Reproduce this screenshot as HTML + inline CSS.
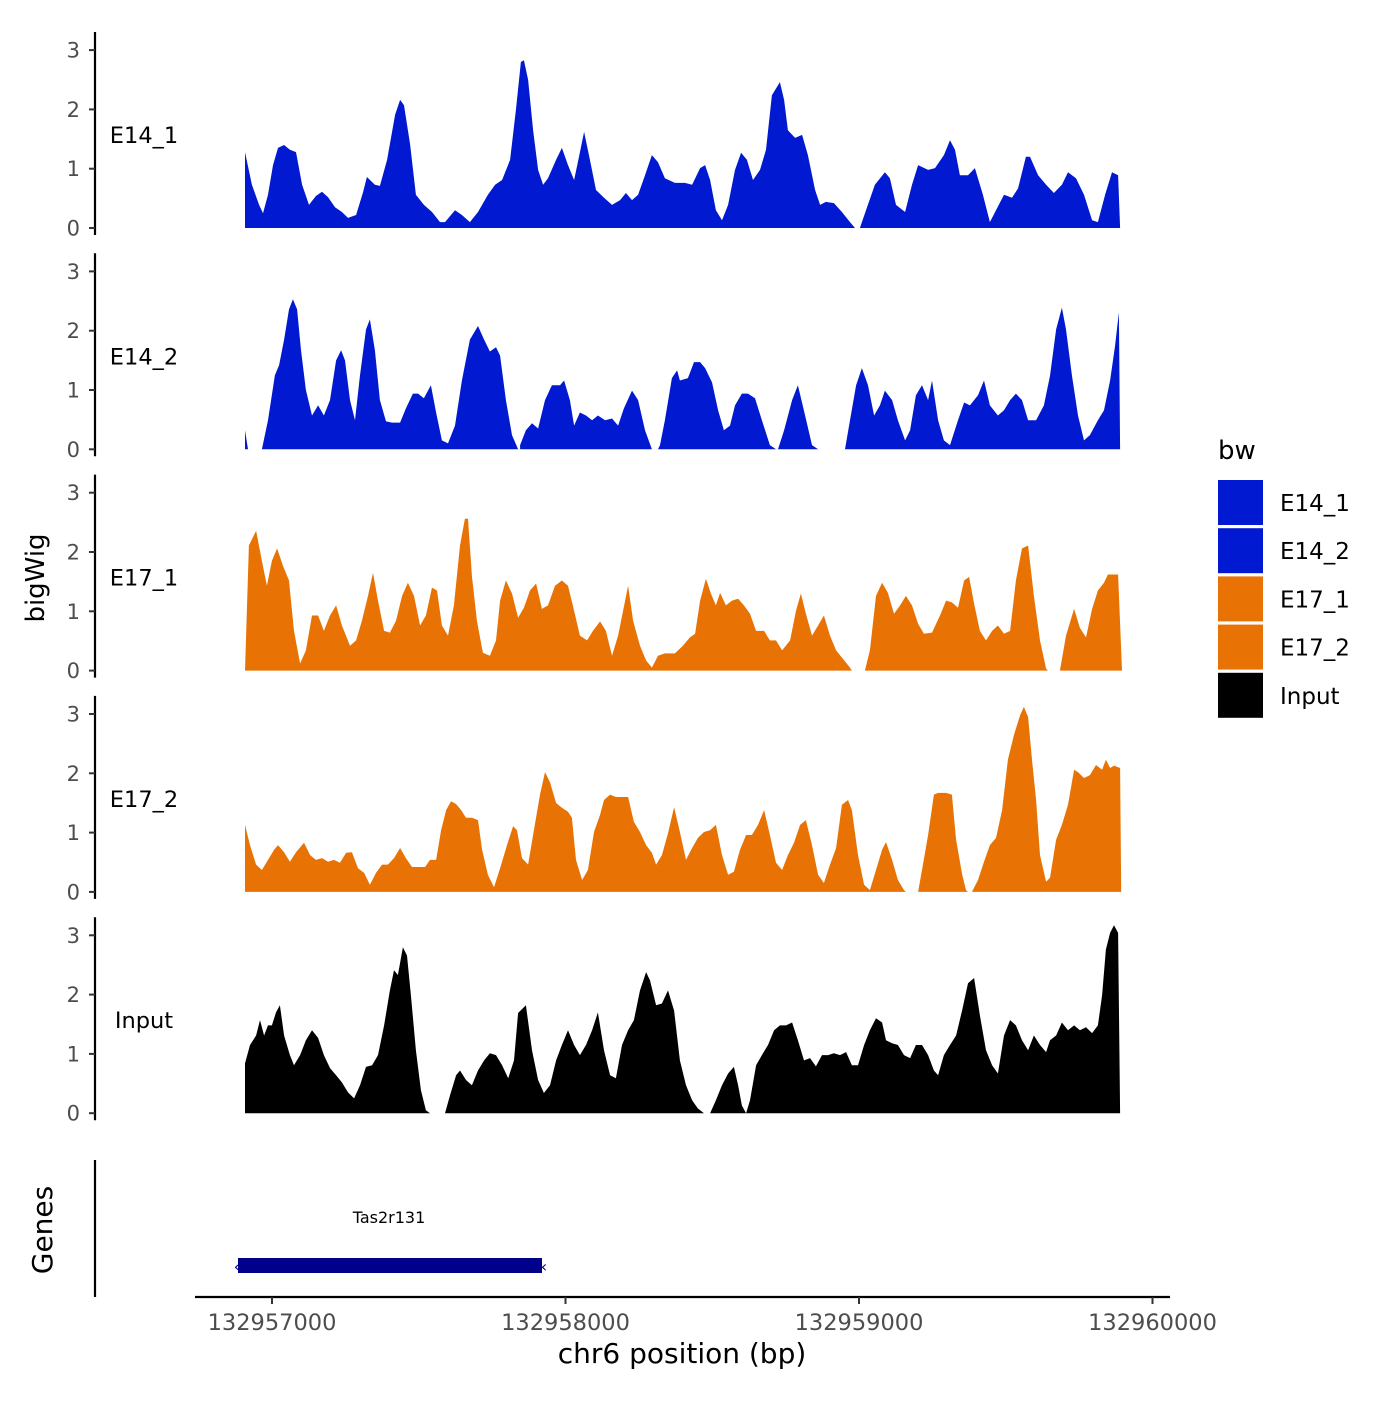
<!DOCTYPE html>
<html><head><meta charset="utf-8"><style>
html,body{margin:0;padding:0;background:#fff;}
svg text{font-family:"DejaVu Sans","Liberation Sans",sans-serif;}
</style></head><body>
<svg id="chart" width="1400" height="1400" viewBox="0 0 1400 1400" xmlns="http://www.w3.org/2000/svg">
<rect width="1400" height="1400" fill="#fff"/>
<g id="tracks"></g>
<g id="genes">
  <line x1="95" y1="1160" x2="95" y2="1297" stroke="#000" stroke-width="2.2"/>
  <text x="52" y="1230" font-size="28" text-anchor="middle" transform="rotate(-90 52 1230)">Genes</text>
  <rect x="238" y="1258" width="304" height="15" fill="#00008b"/>
  <text x="237" y="1272" font-size="16" fill="#00008b" text-anchor="middle">‹</text>
  <text x="544" y="1272" font-size="16" fill="#00008b" text-anchor="middle">‹</text>
  <text x="389" y="1223" font-size="16" text-anchor="middle">Tas2r131</text>
</g>
<g id="xaxis"></g>
<text x="44" y="578" font-size="26" text-anchor="middle" transform="rotate(-90 44 578)">bigWig</text>
<text x="682" y="1363" font-size="28" text-anchor="middle">chr6 position (bp)</text>
<g id="legend">
  <text x="1218" y="459" font-size="26">bw</text>
</g>
</svg>
<script>
const regionStart = 132956908;
const offsetToBp = 0.9438;
const panelNames = ["E14_1","E14_2","E17_1","E17_2","Input"];
const panelColors = ["#0019d1","#0019d1","#e87304","#e87304","#000000"];
const yTicks = [0,1,2,3];
const xTicks = [132957000,132958000,132959000,132960000];
const xTickLabels = ["132957000","132958000","132959000","132960000"];

const E14_1_pos = [0,25,51,65,83,101,119,141,162,184,206,231,256,278,300,325,350,372,401,426,440,469,487,513,542,560,574,596,617,646,675,704,722,758,783,812,841,877,903,928,957,978,996,1007,1022,1040,1058,1076,1094,1123,1144,1166,1188,1206,1224,1245,1267,1296,1325,1354,1375,1397,1419,1444,1469,1491,1516,1552,1588,1614,1643,1661,1679,1700,1722,1744,1769,1791,1812,1834,1859,1881,1902,1931,1946,1960,1986,2011,2032,2058,2076,2097,2126,2155,2184,2202,null,2220,2242,2274,2310,2328,2350,2383,2408,2430,2466,2491,2523,2545,2563,2581,2610,2635,2664,2689,2711,2740,2769,2791,2819,2834,2863,2892,2920,2949,2971,3000,3029,3058,3079,3105,3130,3152,3159];
const E14_1_val = [1.28,0.73,0.39,0.25,0.56,1.06,1.35,1.40,1.32,1.28,0.73,0.39,0.54,0.61,0.52,0.35,0.27,0.17,0.22,0.6,0.86,0.73,0.71,1.15,1.91,2.16,2.07,1.41,0.56,0.39,0.27,0.1,0.1,0.3,0.22,0.1,0.27,0.56,0.73,0.81,1.15,1.99,2.8,2.83,2.5,1.65,0.98,0.73,0.84,1.15,1.35,1.06,0.81,1.21,1.62,1.15,0.64,0.51,0.39,0.47,0.59,0.47,0.56,0.89,1.23,1.11,0.84,0.76,0.76,0.73,1.01,1.06,0.81,0.3,0.13,0.39,0.98,1.27,1.15,0.81,0.98,1.32,2.24,2.46,2.16,1.65,1.52,1.57,1.23,0.64,0.39,0.44,0.42,0.27,0.1,0,null,0,0.3,0.73,0.94,0.84,0.39,0.27,0.73,1.06,0.98,1.01,1.23,1.48,1.32,0.89,0.89,1.01,0.56,0.1,0.3,0.56,0.51,0.67,1.2,1.2,0.89,0.73,0.59,0.73,0.94,0.84,0.56,0.13,0.1,0.56,0.94,0.89,0];

const E14_2_pos = [0,11,null,61,83,108,123,141,159,173,188,202,220,242,264,285,307,329,347,361,379,397,415,437,451,469,487,509,531,560,581,606,625,646,671,690,711,733,758,783,812,841,863,884,906,921,942,964,986,null,993,1014,1036,1058,1083,1108,1137,1152,1173,1188,1209,1231,1253,1274,1300,1325,1347,1368,1397,1419,1444,1469,null,1491,1498,1516,1541,1560,1570,1599,1621,1643,1661,1686,1708,1729,1751,1769,1794,1816,1841,1866,1895,1917,null,1924,1946,1975,1996,2022,2047,2069,null,2166,2184,2206,2227,2249,2271,2292,2310,2336,2357,2383,2401,2422,2444,2466,2480,2502,2523,2545,2574,2596,2617,2646,2668,2689,2718,2740,2762,2783,2805,2827,2856,2884,2906,2928,2949,2964,2985,3007,3029,3050,3079,3101,3123,3141,3155,3159];
const E14_2_val = [0.32,0,null,0,0.49,1.25,1.42,1.85,2.36,2.53,2.36,1.67,1.0,0.57,0.74,0.57,0.83,1.50,1.67,1.50,0.83,0.49,1.25,2.02,2.19,1.67,0.83,0.47,0.45,0.45,0.69,0.94,0.94,0.86,1.08,0.62,0.15,0.10,0.40,1.16,1.85,2.08,1.85,1.65,1.72,1.58,0.83,0.24,0,null,0.07,0.32,0.44,0.35,0.83,1.08,1.08,1.16,0.83,0.40,0.62,0.57,0.49,0.57,0.49,0.52,0.40,0.69,0.99,0.83,0.32,0,null,0,0.07,0.49,1.2,1.33,1.16,1.2,1.47,1.47,1.37,1.13,0.66,0.32,0.40,0.74,0.94,0.94,0.86,0.49,0.07,0,null,0,0.32,0.83,1.08,0.57,0.07,0,null,0,0.49,1.08,1.37,1.08,0.57,0.74,0.99,0.83,0.49,0.15,0.32,0.91,1.08,0.83,1.16,0.49,0.15,0.07,0.49,0.79,0.74,0.91,1.16,0.74,0.57,0.66,0.83,0.94,0.83,0.49,0.49,0.74,1.24,2.02,2.39,2.02,1.25,0.57,0.15,0.24,0.49,0.66,1.16,1.75,2.31,0];

const E17_1_pos = [0,14,40,61,79,97,116,137,159,177,199,220,242,264,285,307,329,350,379,401,422,444,462,480,502,523,545,567,588,610,632,653,675,693,711,733,754,776,794,805,819,837,859,884,906,921,942,964,986,1007,1029,1051,1072,1094,1119,1144,1166,1188,1209,1235,1256,1282,1303,1325,1347,1383,1401,1426,1448,1469,1491,1516,1552,1581,1606,1625,1643,1664,1682,1700,1715,1736,1758,1780,1801,1823,1845,1874,1895,1917,1939,1968,1989,2007,2025,2047,2069,2090,2112,2134,2155,2184,2191,null,2238,2256,2278,2300,2321,2343,2365,2386,2408,2430,2451,2480,2509,2531,2552,2574,2596,2614,2632,2653,2675,2697,2718,2740,2762,2783,2805,2827,2848,2870,2892,2899,null,2942,2964,2993,3014,3036,3058,3079,3101,3115,3137,3152,3166];
const E17_1_val = [0,2.11,2.36,1.85,1.43,1.85,2.06,1.77,1.52,0.67,0.12,0.34,0.93,0.93,0.67,0.93,1.10,0.76,0.42,0.51,0.84,1.26,1.65,1.18,0.67,0.64,0.84,1.26,1.48,1.26,0.76,0.93,1.40,1.35,0.76,0.59,1.10,2.11,2.56,2.56,1.60,0.84,0.30,0.25,0.51,1.18,1.52,1.30,0.89,1.06,1.35,1.47,1.04,1.10,1.43,1.52,1.43,1.01,0.59,0.51,0.67,0.83,0.67,0.25,0.59,1.43,0.84,0.42,0.17,0.05,0.25,0.29,0.29,0.42,0.56,0.62,1.18,1.55,1.30,1.10,1.31,1.10,1.18,1.21,1.10,0.96,0.67,0.67,0.51,0.51,0.34,0.51,1.01,1.30,0.96,0.59,0.76,0.93,0.59,0.34,0.22,0.05,0,null,0,0.34,1.26,1.48,1.31,0.96,1.10,1.26,1.10,0.79,0.62,0.64,0.93,1.18,1.15,1.06,1.52,1.58,1.13,0.67,0.51,0.67,0.76,0.62,0.67,1.52,2.06,2.11,1.26,0.51,0.03,0,null,0,0.59,1.04,0.72,0.56,1.04,1.35,1.48,1.62,1.62,1.62,0];

const E17_2_pos = [0,18,40,61,83,105,119,141,162,184,213,235,256,278,300,321,343,365,386,408,430,451,473,495,516,538,560,581,603,625,650,668,690,708,726,744,762,780,798,819,841,856,877,899,921,946,968,982,1000,1022,1043,1065,1083,1101,1123,1144,1166,1180,1195,1217,1238,1260,1282,1296,1318,1339,1361,1383,1404,1426,1448,1469,1484,1505,1527,1549,1570,1592,1614,1635,1657,1679,1700,1722,1744,1765,1787,1809,1830,1852,1874,1895,1917,1939,1960,1982,2004,2025,2047,2069,2090,2112,2134,2155,2177,2191,2213,2235,2256,2278,2300,2314,2336,2357,2379,2386,null,2430,2444,2466,2487,2502,2531,2552,2567,2589,2603,2610,null,2624,2646,2668,2689,2711,2733,2754,2776,2798,2812,2827,2841,2856,2870,2892,2906,2928,2949,2971,2993,3007,3029,3050,3072,3094,3108,3123,3137,3159,3163];
const E17_2_val = [1.13,0.79,0.46,0.37,0.54,0.71,0.79,0.67,0.51,0.67,0.83,0.62,0.54,0.57,0.51,0.54,0.49,0.66,0.67,0.40,0.32,0.12,0.32,0.46,0.46,0.57,0.74,0.57,0.42,0.42,0.42,0.54,0.54,1.04,1.38,1.53,1.48,1.38,1.25,1.25,1.21,0.71,0.29,0.08,0.40,0.79,1.11,1.04,0.57,0.46,1.04,1.64,2.02,1.85,1.50,1.42,1.35,1.25,0.54,0.20,0.37,1.01,1.30,1.55,1.64,1.60,1.60,1.60,1.18,1.01,0.79,0.66,0.46,0.62,0.99,1.43,1.01,0.54,0.74,0.91,1.01,1.04,1.13,0.62,0.29,0.34,0.71,0.96,0.96,1.13,1.38,0.96,0.49,0.37,0.62,0.83,1.13,1.21,0.79,0.29,0.15,0.46,0.74,1.47,1.55,1.38,0.62,0.12,0.03,0.37,0.71,0.84,0.54,0.20,0.03,0,null,0,0.37,0.96,1.64,1.67,1.67,1.64,0.88,0.29,0.03,0,null,0,0.20,0.51,0.79,0.91,1.38,2.23,2.65,2.98,3.12,2.95,2.23,1.55,0.62,0.17,0.24,0.88,1.13,1.47,2.06,2.02,1.92,1.97,2.14,2.06,2.23,2.09,2.13,2.09,0];

const Input_pos = [0,18,40,54,69,83,97,112,126,141,162,177,199,220,242,264,285,307,329,350,372,394,415,437,459,480,502,523,538,552,570,585,599,617,635,653,668,null,722,740,762,776,798,819,841,863,884,906,928,950,971,986,1014,1036,1058,1079,1101,1123,1144,1166,1188,1209,1231,1253,1274,1296,1318,1339,1361,1383,1404,1426,1448,1462,1484,1505,1527,1549,1570,1592,1614,1635,1657,null,1679,1700,1722,1744,1765,1780,1794,1809,1823,1845,1866,1888,1910,1931,1953,1975,1996,2018,2040,2061,2083,2105,2126,2148,2170,2191,2213,2235,2256,2278,2300,2314,2336,2357,2379,2401,2422,2444,2466,2487,2502,2523,2545,2567,2589,2610,2632,2653,2675,2697,2718,2740,2762,2783,2805,2827,2848,2870,2892,2906,2928,2949,2971,2993,3014,3036,3058,3079,3094,3108,3123,3137,3152,3159];
const Input_val = [0.84,1.15,1.31,1.57,1.31,1.48,1.48,1.70,1.82,1.31,0.98,0.81,0.98,1.23,1.40,1.27,0.98,0.76,0.64,0.52,0.35,0.25,0.47,0.78,0.81,0.98,1.48,2.07,2.41,2.33,2.80,2.66,1.99,1.06,0.39,0.05,0,null,0,0.30,0.64,0.72,0.56,0.47,0.72,0.89,1.01,0.98,0.81,0.59,0.89,1.69,1.82,1.06,0.56,0.34,0.47,0.89,1.15,1.40,1.15,0.98,1.15,1.40,1.70,1.06,0.64,0.59,1.15,1.40,1.57,2.07,2.38,2.24,1.82,1.85,2.07,1.73,0.89,0.47,0.22,0.08,0,null,0,0.22,0.47,0.67,0.78,0.47,0.13,0,0.22,0.81,0.98,1.15,1.40,1.48,1.48,1.53,1.23,0.89,0.93,0.79,0.98,0.98,1.01,0.98,1.03,0.81,0.81,1.15,1.40,1.60,1.53,1.23,1.18,1.15,0.98,0.93,1.15,1.15,0.98,0.72,0.64,0.98,1.15,1.31,1.74,2.19,2.28,1.65,1.06,0.81,0.67,1.31,1.57,1.48,1.23,1.06,1.31,1.15,1.03,1.23,1.31,1.53,1.40,1.48,1.40,1.45,1.35,1.48,1.99,2.76,3.04,3.17,3.04,0];

const seriesPos = [E14_1_pos,E14_2_pos,E17_1_pos,E17_2_pos,Input_pos];
const seriesVal = [E14_1_val,E14_2_val,E17_1_val,E17_2_val,Input_val];

const NS = "http://www.w3.org/2000/svg";
function xScale(bp){ return 272 + (bp - 132957000) * 0.2935; }
function panelBase(i){ return 228 + i * 221.3; }
function yScale(i, v){ return panelBase(i) - v * 59.3; }
function mk(tag, attrs, parent){ const e=document.createElementNS(NS,tag); for(const k in attrs) e.setAttribute(k,attrs[k]); parent.appendChild(e); return e; }

const tracks = document.getElementById('tracks');
for(let i=0;i<panelNames.length;i++){
  const g = mk('g',{},tracks);
  
  
  const base = panelBase(i);
  const ax = mk('line',{x1:95,y1:base-196,x2:95,y2:base+7,stroke:'#000','stroke-width':2.2},g);
  
  
  for(const t of yTicks){
    const y = yScale(i,t);
    const tk = mk('line',{x1:89,y1:y,x2:95,y2:y,stroke:'#333','stroke-width':2},g);
    
    
    const tl = mk('text',{x:80,y:y+7.5,'font-size':21,fill:'#4d4d4d','text-anchor':'end'},g);
    tl.textContent = t;
    
    
  }
  const lab = mk('text',{x:144,y:base-85,'font-size':22.5,'text-anchor':'middle'},g);
  lab.textContent = panelNames[i];
  
  
  const P = seriesPos[i], V = seriesVal[i];
  let seg = [];
  const segs = [];
  for(let k=0;k<P.length;k++){
    if(P[k]===null || V[k]===null){ if(seg.length) segs.push(seg); seg=[]; continue; }
    seg.push([xScale(regionStart+P[k]*offsetToBp), yScale(i,V[k])]);
  }
  if(seg.length) segs.push(seg);
  for(const s of segs){
    let d = 'M'+s[0][0].toFixed(1)+','+base;
    for(const p of s) d += 'L'+p[0].toFixed(1)+','+p[1].toFixed(1);
    d += 'L'+s[s.length-1][0].toFixed(1)+','+base+'Z';
    const a = mk('path',{d:d,fill:panelColors[i]},g);
    
    
  }
}

const xa = document.getElementById('xaxis');
const xl = mk('line',{x1:195,y1:1297,x2:1170,y2:1297,stroke:'#000','stroke-width':2.2},xa);


for(let k=0;k<xTicks.length;k++){
  const x = xScale(xTicks[k]);
  const t = mk('line',{x1:x,y1:1297,x2:x,y2:1304,stroke:'#333','stroke-width':2},xa);
  
  
  const tl = mk('text',{x:x,y:1330,'font-size':22.5,fill:'#4d4d4d','text-anchor':'middle'},xa);
  tl.textContent = xTickLabels[k];
  
  
}

const lg = document.getElementById('legend');
for(let k=0;k<panelNames.length;k++){
  const y = 480 + k*48.2;
  const r = mk('rect',{x:1218,y:y,width:45,height:45,fill:panelColors[k]},lg);
  
  
  const t = mk('text',{x:1280,y:y+31,'font-size':23},lg);
  t.textContent = panelNames[k];
  
  
}
</script>
</body></html>
